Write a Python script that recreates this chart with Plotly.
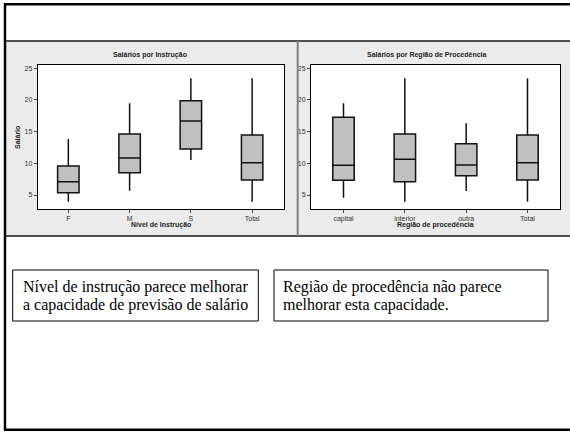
import plotly.graph_objects as go

W, H = 570, 432

# Salary distribution summaries (five-number style) by education level
edu_cats = ["F", "M", "S", "Total"]
edu_low = [3.94, 5.68, 10.52, 3.94]
edu_q1 = [5.36, 8.52, 12.26, 7.36]
edu_med = [7.10, 10.84, 16.68, 10.10]
edu_q3 = [9.57, 14.63, 19.89, 14.47]
edu_high = [13.84, 19.47, 23.42, 23.42]

# Salary distribution summaries by region of origin
reg_cats = ["capital", "interior", "outra", "Total"]
reg_low = [4.57, 3.94, 5.63, 3.94]
reg_q1 = [7.32, 7.10, 8.04, 7.36]
reg_med = [9.68, 10.63, 9.73, 10.10]
reg_q3 = [17.26, 14.63, 13.10, 14.47]
reg_high = [19.47, 23.42, 16.32, 23.42]

y_ticks = [5, 10, 15, 20, 25]


def px(x):
    return x / W


def py(y):
    return 1 - y / H


fig = go.Figure()

box_style = dict(
    fillcolor="#c0c0c0",
    line=dict(color="#111111", width=1.5),
    whiskerwidth=0,
    width=0.35,
    boxpoints=False,
    showlegend=False,
    hoverinfo="skip",
)

fig.add_trace(go.Box(x=edu_cats, q1=edu_q1, median=edu_med, q3=edu_q3,
                     lowerfence=edu_low, upperfence=edu_high,
                     xaxis="x", yaxis="y", **box_style))
fig.add_trace(go.Box(x=reg_cats, q1=reg_q1, median=reg_med, q3=reg_q3,
                     lowerfence=reg_low, upperfence=reg_high,
                     xaxis="x2", yaxis="y2", **box_style))

tick_font = dict(family="Liberation Sans, Arial, sans-serif", size=7, color="#333333")
ax_common = dict(
    showline=True, mirror=True, linecolor="black", linewidth=1,
    ticks="outside", ticklen=3, tickwidth=1, tickcolor="#444444",
    showgrid=False, zeroline=False, tickfont=tick_font, automargin=False,
    fixedrange=True,
)

y_dom = [py(209), py(65)]
fig.update_layout(
    width=W, height=H,
    margin=dict(l=0, r=0, t=0, b=0),
    paper_bgcolor="white",
    plot_bgcolor="white",
    xaxis=dict(domain=[px(37.7), px(284)], range=[-0.5, 3.52], anchor="y",
               type="category", **ax_common),
    yaxis=dict(domain=y_dom, range=[2.79, 25.52], anchor="x",
               tickvals=y_ticks, **ax_common),
    xaxis2=dict(domain=[px(311), px(560)], range=[-0.53, 3.53], anchor="y2",
                type="category", **ax_common),
    yaxis2=dict(domain=y_dom, range=[2.79, 25.52], anchor="x2",
                tickvals=y_ticks, **ax_common),
)

shapes = []
# grey band holding both charts
shapes.append(dict(type="rect", xref="paper", yref="paper", layer="below",
                   x0=px(5), x1=px(570), y0=py(236), y1=py(41),
                   fillcolor="#ebebeb", line=dict(width=0)))
# white plotting areas over the band
for x0, x1 in [(37.7, 284), (311, 560)]:
    shapes.append(dict(type="rect", xref="paper", yref="paper", layer="below",
                       x0=px(x0), x1=px(x1), y0=py(209), y1=py(65),
                       fillcolor="white", line=dict(width=0)))
# band edges and panel divider
shapes.append(dict(type="line", xref="paper", yref="paper",
                   x0=px(5), x1=px(570), y0=py(41), y1=py(41),
                   line=dict(color="#1a1a1a", width=1.5)))
shapes.append(dict(type="line", xref="paper", yref="paper",
                   x0=px(5), x1=px(570), y0=py(236), y1=py(236),
                   line=dict(color="#1a1a1a", width=1.5)))
shapes.append(dict(type="line", xref="paper", yref="paper",
                   x0=px(297.7), x1=px(297.7), y0=py(236), y1=py(41),
                   line=dict(color="#7f7f7f", width=2)))
# outer frame
shapes.append(dict(type="line", xref="paper", yref="paper",
                   x0=px(5), x1=px(570), y0=py(4.3), y1=py(4.3),
                   line=dict(color="black", width=2.5)))
shapes.append(dict(type="line", xref="paper", yref="paper",
                   x0=px(5), x1=px(5), y0=py(430), y1=py(3),
                   line=dict(color="black", width=2.5)))
shapes.append(dict(type="line", xref="paper", yref="paper",
                   x0=px(4), x1=px(570), y0=py(429.8), y1=py(429.8),
                   line=dict(color="black", width=2.5)))
# comment boxes
for x0, x1 in [(12.7, 258.3), (274, 548)]:
    shapes.append(dict(type="rect", xref="paper", yref="paper",
                       x0=px(x0), x1=px(x1), y0=py(321), y1=py(270),
                       fillcolor="rgba(0,0,0,0)", line=dict(color="black", width=1)))
fig.update_layout(shapes=shapes)

title_font = dict(family="Liberation Sans, Arial, sans-serif", size=7, color="#222222")
serif = dict(family="Liberation Serif, Times New Roman, serif", size=16, color="black")

annotations = [
    dict(text="<b>Salários por Instrução</b>", x=px(150), y=py(55), font=title_font),
    dict(text="<b>Salários por Região de Procedência</b>", x=px(427), y=py(55), font=title_font),
    dict(text="<b>Nível de Instrução</b>", x=px(161), y=py(225), font=title_font),
    dict(text="<b>Região de procedência</b>", x=px(435), y=py(225), font=title_font),
    dict(text="<b>Salário</b>", x=px(17), y=py(138), font=title_font, textangle=-90),
    dict(text="Nível de instrução parece melhorar", x=px(20.5), y=py(286.5),
         font=serif, xanchor="left"),
    dict(text="a capacidade de previsão de salário", x=px(20.5), y=py(305),
         font=serif, xanchor="left"),
    dict(text="Região de procedência não parece", x=px(280.5), y=py(286.5),
         font=serif, xanchor="left"),
    dict(text="melhorar esta capacidade.", x=px(280.5), y=py(305),
         font=serif, xanchor="left"),
]
for a in annotations:
    a.setdefault("xanchor", "center")
    a.update(xref="paper", yref="paper", yanchor="middle", showarrow=False)
fig.update_layout(annotations=annotations)

fig.write_html("out.html")
